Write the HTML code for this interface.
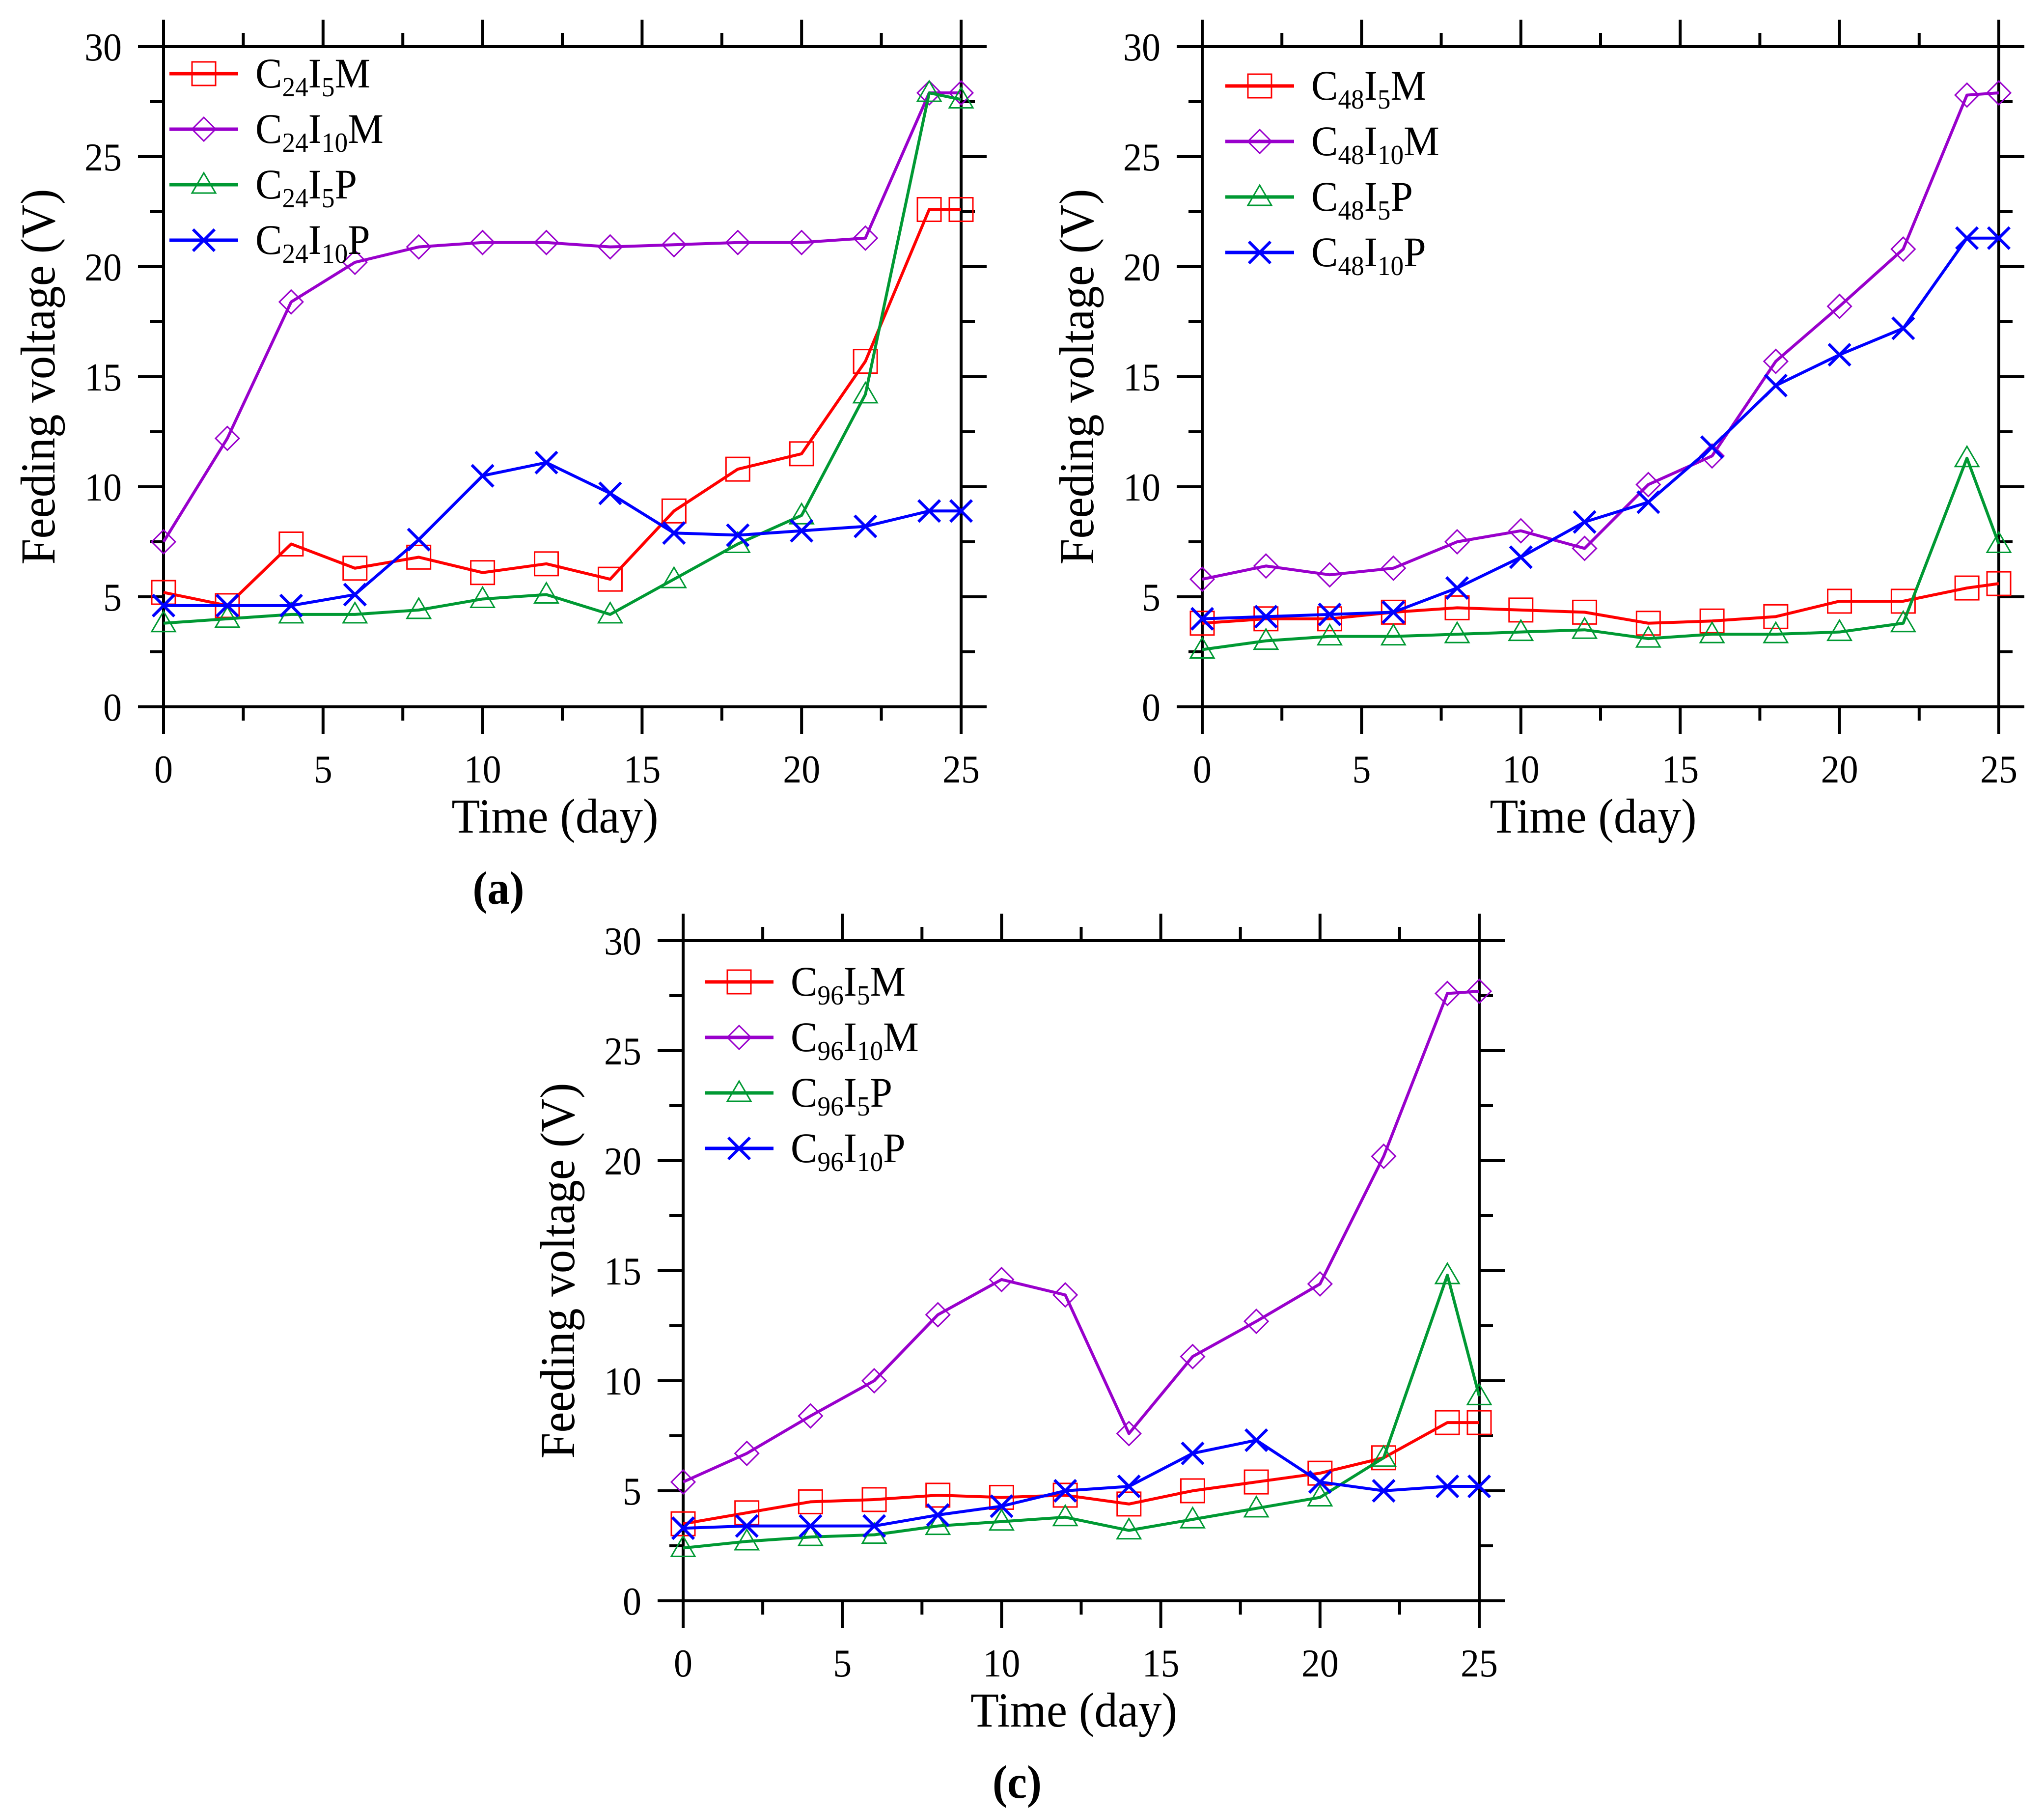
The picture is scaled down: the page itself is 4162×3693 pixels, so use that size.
<!DOCTYPE html>
<html><head><meta charset="utf-8"><title>Feeding voltage charts</title>
<style>
html,body{margin:0;padding:0;background:#fff;}
svg{display:block;font-family:"Liberation Serif","Times New Roman",serif;}
svg text{font-family:"Liberation Serif","Times New Roman",serif;}
</style></head>
<body>
<svg id="fig" xmlns="http://www.w3.org/2000/svg" width="4162" height="3693" viewBox="0 0 4162 3693"></svg>
<script>
const days = [0,2,4,6,8,10,12,14,16,18,20,22,24,25];
const xTicks = [0,5,10,15,20,25];
const yTicks = [0,5,10,15,20,25,30];
const seriesNames = ["I5M","I10M","I5P","I10P"];
const a_I5M  = [5.2,4.6,7.4,6.3,6.8,6.1,6.5,5.8,8.9,10.8,11.5,15.7,22.6,22.6];
const a_I10M = [7.5,12.2,18.4,20.2,20.9,21.1,21.1,20.9,21.0,21.1,21.1,21.3,27.9,27.9];
const a_I5P  = [3.8,4.0,4.2,4.2,4.4,4.9,5.1,4.2,5.8,7.4,8.7,14.2,27.9,27.6];
const a_I10P = [4.6,4.6,4.6,5.1,7.6,10.5,11.1,9.7,7.9,7.8,8.0,8.2,8.9,8.9];
const b_I5M  = [3.8,4.0,4.0,4.3,4.5,4.4,4.3,3.8,3.9,4.1,4.8,4.8,5.4,5.6];
const b_I10M = [5.8,6.4,6.0,6.3,7.5,8.0,7.2,10.1,11.4,15.7,18.2,20.8,27.8,27.9];
const b_I5P  = [2.6,3.0,3.2,3.2,3.3,3.4,3.5,3.1,3.3,3.3,3.4,3.8,11.3,7.4];
const b_I10P = [4.0,4.1,4.2,4.3,5.4,6.8,8.4,9.3,11.8,14.6,16.0,17.2,21.3,21.3];
const c_I5M  = [3.5,4.0,4.5,4.6,4.8,4.7,4.8,4.4,5.0,5.4,5.8,6.5,8.1,8.1];
const c_I10M = [5.4,6.7,8.4,10.0,13.0,14.6,13.9,7.6,11.1,12.7,14.4,20.2,27.6,27.7];
const c_I5P  = [2.4,2.7,2.9,3.0,3.4,3.6,3.8,3.2,3.7,4.2,4.7,6.5,14.8,9.3];
const c_I10P = [3.3,3.4,3.4,3.4,3.9,4.3,5.0,5.2,6.7,7.3,5.4,5.0,5.2,5.2];

const NS="http://www.w3.org/2000/svg";
const svg=document.getElementById('fig');
function el(tag,attrs,parent){const e=document.createElementNS(NS,tag);for(const k in attrs)e.setAttribute(k,attrs[k]);(parent||svg).appendChild(e);return e;}
const SX=0.95;
function txt(parent,x,y,size,anchor,extra){
  const a=Object.assign({x:0,y:0,'font-size':size,'text-anchor':anchor,transform:`translate(${x} ${y}) scale(${SX} 1)`},extra||{});
  return el('text',a,parent);
}

const colors={I5M:"#ff0000",I10M:"#9900cc",I5P:"#009933",I10P:"#0000ff"};
const markers={I5M:"square",I10M:"diamond",I5P:"triangle",I10P:"x"};

function drawMarker(g,type,cx,cy,col){
  let m;
  if(type==="square"){m=el('rect',{x:cx-24,y:cy-24,width:48,height:48,fill:"none",stroke:col,'stroke-width':3},g);}
  else if(type==="diamond"){m=el('polygon',{points:`${cx},${cy-24} ${cx+24},${cy} ${cx},${cy+24} ${cx-24},${cy}`,fill:"none",stroke:col,'stroke-width':3},g);}
  else if(type==="triangle"){m=el('polygon',{points:`${cx},${cy-24} ${cx+24},${cy+17} ${cx-24},${cy+17}`,fill:"none",stroke:col,'stroke-width':3},g);}
  else {m=el('path',{d:`M${cx-22},${cy-22}L${cx+22},${cy+22}M${cx+22},${cy-22}L${cx-22},${cy+22}`,stroke:col,'stroke-width':6,fill:"none"},g);}
  
  
}

function panel(id,x0,x25,y30,y0,prefix,data,legOff,label){
  const g=el('g',{});
  
  
  const X=v=>x0+(x25-x0)*v/25;
  const Y=v=>y0-(y0-y30)*v/30;
  const ax=el('g',{stroke:"#000",'stroke-width':6,fill:"none"},g);
  
  
  el('line',{x1:x0-52,y1:y0,x2:x25+52,y2:y0},ax);
  el('line',{x1:x0-52,y1:y30,x2:x25+52,y2:y30},ax);
  el('line',{x1:x0,y1:y30-55,x2:x0,y2:y0+55},ax);
  el('line',{x1:x25,y1:y30-55,x2:x25,y2:y0+55},ax);
  for(let v=0;v<=30;v+=2.5){
    const L=(v%5===0)?52:28;
    el('line',{x1:x0-L,y1:Y(v),x2:x0,y2:Y(v)},ax);
    el('line',{x1:x25,y1:Y(v),x2:x25+L,y2:Y(v)},ax);
  }
  for(let v=0;v<=25;v+=2.5){
    const L=(v%5===0)?55:28;
    el('line',{x1:X(v),y1:y0,x2:X(v),y2:y0+L},ax);
    el('line',{x1:X(v),y1:y30-L,x2:X(v),y2:y30},ax);
  }
  yTicks.forEach(v=>{const t=txt(g,x0-85,Y(v)+28,80,'end');t.textContent=v;
    
    });
  xTicks.forEach(v=>{const t=txt(g,X(v),y0+154,80,'middle');t.textContent=v;
    
    });
  const xt=txt(g,(x0+x25)/2-15,y0+256,100,'middle');xt.textContent="Time (day)";
  
  
  const ym=(y0+y30)/2;
  const yt=el('text',{x:0,y:0,'text-anchor':'middle','font-size':100,transform:`translate(${x0-222} ${ym}) rotate(-90) scale(${SX} 1)`},g);yt.textContent="Feeding voltage (V)";
  
  
  seriesNames.forEach((s,i)=>{
    const vals=data[i],col=colors[s];
    const sg=el('g',{},g);
    
    
    const pts=days.map((d,j)=>X(d)+","+Y(vals[j])).join(" ");
    const pl=el('polyline',{points:pts,fill:"none",stroke:col,'stroke-width':6,'stroke-linejoin':'round'},sg);
    
    
    days.forEach((d,j)=>drawMarker(sg,markers[s],X(d),Y(vals[j]),col));
    const lg=el('g',{},g);
    
    
    const ly=y30+legOff[1]+i*113;
    el('line',{x1:x0+legOff[0],y1:ly,x2:x0+legOff[0]+140,y2:ly,stroke:col,'stroke-width':7},lg);
    drawMarker(lg,markers[s],x0+legOff[0]+70,ly,col);
    const t=txt(lg,x0+legOff[0]+175,ly+28,86,'start');
    const sub=s.startsWith("I10")?"10":"5";
    const tail=s.endsWith("M")?"M":"P";
    t.appendChild(document.createTextNode("C"));
    const s1=el('tspan',{'font-size':56,dy:18},t);s1.textContent=prefix;
    const s2=el('tspan',{dy:-18},t);s2.textContent="I";
    const s3=el('tspan',{'font-size':56,dy:18},t);s3.textContent=sub;
    const s4=el('tspan',{dy:-18},t);s4.textContent=tail;
  });
  if(label){
    const lt=txt(g,label[0],label[1],95,'middle',{'font-weight':'bold'});
    lt.textContent=label[2];
    
    
  }
}
panel('a',333,1957,95,1439,"24",[a_I5M,a_I10M,a_I5P,a_I10P],[12,55],[1015,1840,"(a)"]);
panel('b',2448,4070,95,1439,"48",[b_I5M,b_I10M,b_I5P,b_I10P],[47,80],null);
panel('c',1391,3012,1915,3259,"96",[c_I5M,c_I10M,c_I5P,c_I10P],[44,84],[2071,3660,"(c)"]);
</script>
</body></html>
